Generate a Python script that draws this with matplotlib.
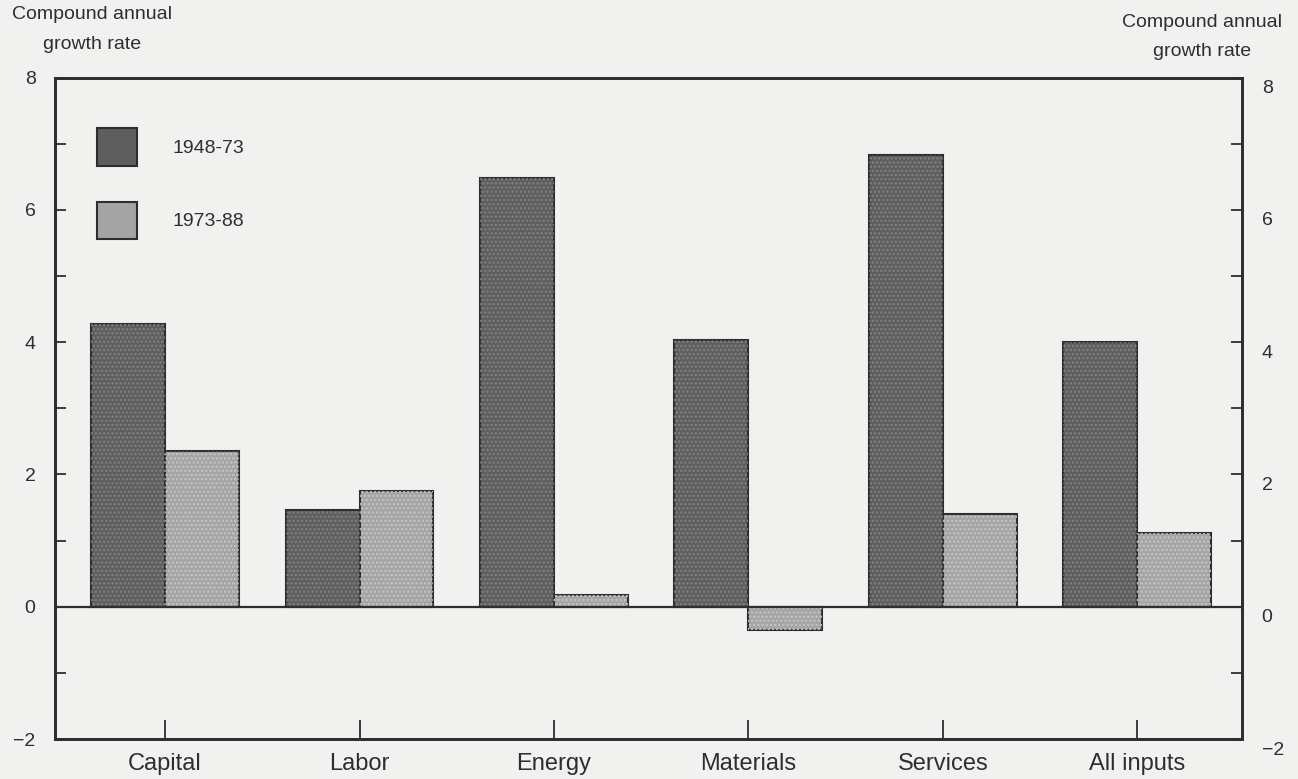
import matplotlib.pyplot as plt
import numpy as np
from matplotlib.transforms import ScaledTranslation

plt.rcParams['font.family'] = ['Liberation Sans', 'DejaVu Sans']
plt.rcParams['hatch.linewidth'] = 1.2

categories = ["Capital", "Labor", "Energy", "Materials", "Services", "All inputs"]
growth_1948_73 = [4.28, 1.46, 6.48, 4.04, 6.83, 4.0]
growth_1973_88 = [2.35, 1.75, 0.18, -0.35, 1.41, 1.11]
series_labels = ["1948-73", "1973-88"]
yticks = [-2, 0, 2, 4, 6, 8]

bg = "#f1f1ef"
dark = "#5e5e5e"
light = "#a4a4a4"
ink = "#2e2e2e"

fig = plt.figure(figsize=(12.98, 7.79), dpi=100, facecolor=bg)
ax = fig.add_axes([0.0424, 0.0513, 0.9146, 0.849])
ax.set_facecolor(bg)

x = np.arange(len(categories))
w = 0.38

ax.bar(x - w / 2, growth_1948_73, w, color=dark, edgecolor=ink, linewidth=1.5,
       label=series_labels[0], zorder=2)
ax.bar(x + w / 2, growth_1973_88, w, color=light, edgecolor=ink, linewidth=1.5,
       label=series_labels[1], zorder=2)
# dotted screen texture on top
ax.bar(x - w / 2, growth_1948_73, w, facecolor="none", edgecolor="#808080",
       hatch="....", linewidth=0, zorder=3)
ax.bar(x + w / 2, growth_1973_88, w, facecolor="none", edgecolor="#c4c4c4",
       hatch="....", linewidth=0, zorder=3)

ax.axhline(0, color=ink, linewidth=1.6, zorder=4)

ax.set_xlim(-0.566, 5.54)
ax.set_ylim(-2, 8)
ax.set_xticks(x)
ax.set_xticklabels(categories, fontsize=17, color=ink)
ax.set_yticks(yticks)
ax.set_yticks(np.arange(-1, 8, 2), minor=True)
ax.set_yticklabels([str(t).replace("-", "\u2212") for t in yticks], fontsize=14, color=ink)
ax.tick_params(axis="x", direction="in", length=14, width=1.3, color=ink, pad=10)
ax.tick_params(axis="y", which="both", direction="in", length=8, width=1.3, color=ink, pad=14)

for s in ax.spines.values():
    s.set_linewidth(2)
    s.set_color(ink)

ax2 = ax.twinx()
ax2.set_ylim(-2, 8)
ax2.set_yticks(yticks)
ax2.set_yticks(np.arange(-1, 8, 2), minor=True)
ax2.set_yticklabels([str(t).replace("-", "\u2212") for t in yticks], fontsize=14, color=ink)
ax2.tick_params(axis="y", which="both", direction="in", length=8, width=1.3, color=ink, pad=14)
shift = ScaledTranslation(0, -9 / 100, fig.dpi_scale_trans)
for lab in ax2.get_yticklabels():
    lab.set_transform(lab.get_transform() + shift)
for s in ax2.spines.values():
    s.set_linewidth(2)
    s.set_color(ink)

leg = ax.legend(loc="upper left", bbox_to_anchor=(0.035, 0.924), frameon=False,
                fontsize=14, handlelength=2.06, handleheight=2.6,
                labelspacing=1.85, handletextpad=1.85, borderpad=0, borderaxespad=0)
for t in leg.get_texts():
    t.set_color(ink)

fig.text(0.071, 0.992, "Compound annual\ngrowth rate", ha="center", va="top",
         fontsize=14, color=ink, linespacing=1.95, multialignment="center")
fig.text(0.926, 0.982, "Compound annual\ngrowth rate", ha="center", va="top",
         fontsize=14, color=ink, linespacing=1.95, multialignment="center")

fig.savefig("out.png", dpi=100, facecolor=bg)
